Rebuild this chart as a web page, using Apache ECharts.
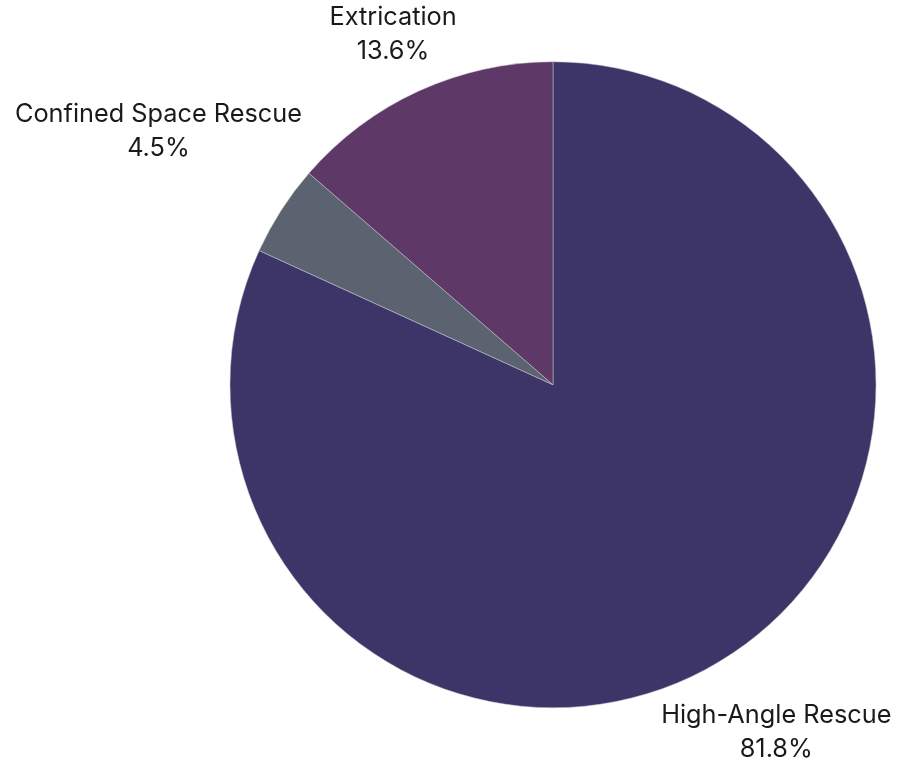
<!DOCTYPE html>
<html>
<head>
<meta charset="utf-8">
<script src="https://cdn.jsdelivr.net/npm/echarts@6/dist/echarts.min.js"></script>
<style>
html,body{margin:0;padding:0;background:#fff;}
#chart{width:897px;height:768px;}
</style>
</head>
<body>
<div id="chart"></div>
<script>
const categories = ['High-Angle Rescue', 'Confined Space Rescue', 'Extrication'];
const values = [18, 1, 3];
const colors = ['#3d3567', '#5c6370', '#5e3866'];
const labelLens = [90, 146, 62];

const chart = echarts.init(document.getElementById('chart'), null, {renderer: 'canvas'});
const data = categories.map((c, i) => ({
  name: c,
  value: values[i],
  itemStyle: {color: colors[i]},
  labelLine: {show: false, length: labelLens[i], length2: 0}
}));
chart.setOption({
  animation: false,
  series: [{
    type: 'pie',
    center: ['61.65%', '50.1%'],
    radius: 323,
    startAngle: 90,
    clockwise: true,
    data: data,
    itemStyle: {borderColor: '#c8c8d0', borderWidth: 0.5},
    label: {
      show: true,
      position: 'outside',
      fontFamily: 'Inter',
      fontSize: 25.3,
      color: '#1a1a1a',
      lineHeight: 34,
      overflow: 'none',
      distanceToLabelLine: 0,
      formatter: p => p.name + '\n' + p.percent.toFixed(1) + '%'
    },
    labelLine: {show: false},
    labelLayout: function () { return {align: 'center', verticalAlign: 'middle'}; },
    avoidLabelOverlap: false
  }]
});
</script>
</body>
</html>
